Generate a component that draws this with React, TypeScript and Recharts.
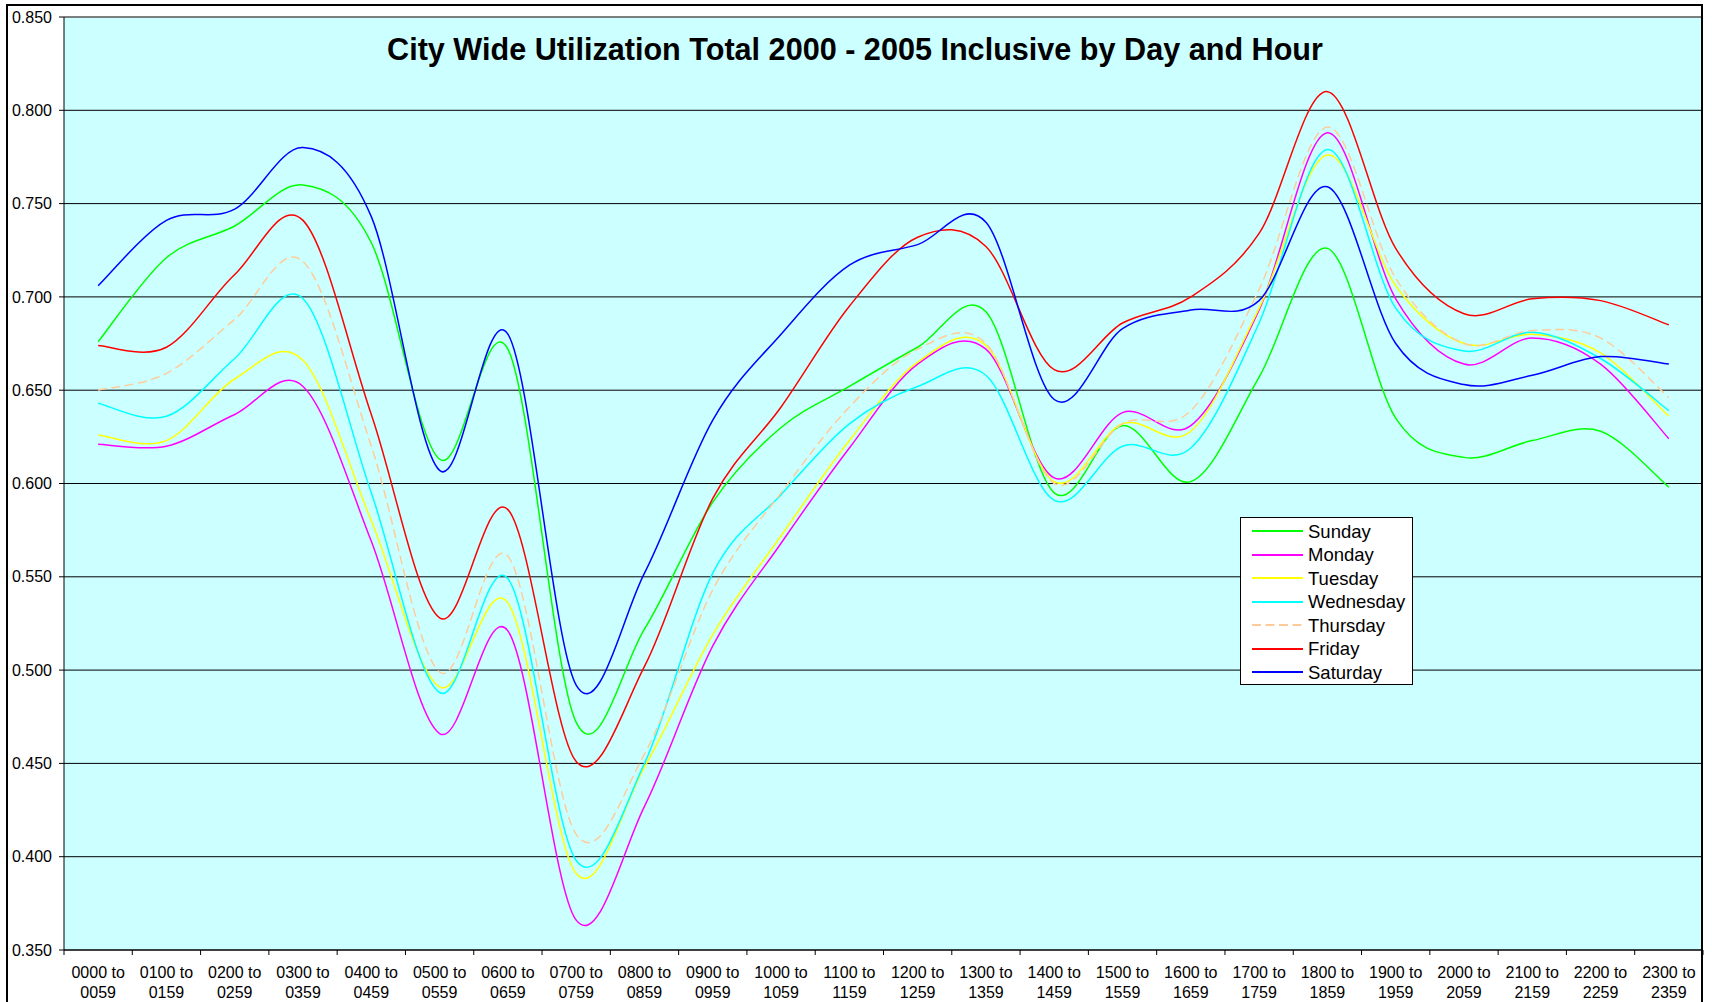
import { CartesianGrid, Legend, Line, LineChart, ReferenceLine, XAxis, YAxis } from "recharts";

const hours = [
  "0000 to 0059", "0100 to 0159", "0200 to 0259", "0300 to 0359", "0400 to 0459", "0500 to 0559",
  "0600 to 0659", "0700 to 0759", "0800 to 0859", "0900 to 0959", "1000 to 1059", "1100 to 1159",
  "1200 to 1259", "1300 to 1359", "1400 to 1459", "1500 to 1559", "1600 to 1659", "1700 to 1759",
  "1800 to 1859", "1900 to 1959", "2000 to 2059", "2100 to 2159", "2200 to 2259", "2300 to 2359",
];

const sunday = [0.676, 0.721, 0.738, 0.760, 0.729, 0.613, 0.672, 0.472, 0.522, 0.590, 0.630, 0.652, 0.673, 0.692, 0.595, 0.631, 0.601, 0.657, 0.726, 0.635, 0.614, 0.623, 0.628, 0.598];
const monday = [0.621, 0.620, 0.637, 0.652, 0.569, 0.466, 0.521, 0.366, 0.427, 0.513, 0.568, 0.619, 0.664, 0.672, 0.603, 0.638, 0.631, 0.693, 0.788, 0.699, 0.664, 0.678, 0.664, 0.624];
const tuesday = [0.626, 0.623, 0.656, 0.666, 0.580, 0.491, 0.536, 0.391, 0.448, 0.519, 0.572, 0.623, 0.665, 0.674, 0.601, 0.632, 0.628, 0.694, 0.776, 0.706, 0.675, 0.680, 0.670, 0.636];
const wednesday = [0.643, 0.636, 0.667, 0.699, 0.595, 0.488, 0.549, 0.398, 0.450, 0.552, 0.594, 0.632, 0.652, 0.658, 0.591, 0.620, 0.619, 0.686, 0.779, 0.694, 0.671, 0.681, 0.667, 0.639];
const thursday = [0.650, 0.659, 0.688, 0.719, 0.620, 0.499, 0.561, 0.412, 0.455, 0.543, 0.595, 0.641, 0.672, 0.675, 0.600, 0.632, 0.639, 0.704, 0.791, 0.710, 0.675, 0.682, 0.678, 0.646];
const friday = [0.674, 0.673, 0.712, 0.741, 0.637, 0.528, 0.586, 0.451, 0.502, 0.592, 0.641, 0.695, 0.732, 0.727, 0.661, 0.686, 0.700, 0.734, 0.810, 0.726, 0.691, 0.699, 0.698, 0.685];
const saturday = [0.706, 0.741, 0.747, 0.780, 0.743, 0.607, 0.680, 0.492, 0.552, 0.634, 0.680, 0.717, 0.728, 0.740, 0.645, 0.683, 0.693, 0.698, 0.759, 0.675, 0.653, 0.658, 0.668, 0.664];

const yTicks = [0.35, 0.4, 0.45, 0.5, 0.55, 0.6, 0.65, 0.7, 0.75, 0.8, 0.85];

const series = [
  { name: "Sunday", values: sunday, color: "#00ff00" },
  { name: "Monday", values: monday, color: "#ff00ff" },
  { name: "Tuesday", values: tuesday, color: "#ffff00" },
  { name: "Wednesday", values: wednesday, color: "#00ffff" },
  { name: "Thursday", values: thursday, color: "#ffcc99", dash: "9 4.5" },
  { name: "Friday", values: friday, color: "#ff0000" },
  { name: "Saturday", values: saturday, color: "#0000ff" },
];

const data = hours.map((hour, i) => {
  const row: Record<string, string | number> = { hour };
  series.forEach((s) => (row[s.name] = s.values[i]));
  return row;
});

const FONT = "'Liberation Sans', Arial, sans-serif";
const W = 1712;
const H = 1002;
const PLOT_L = 64;
const PLOT_R = 1703;
const STEP = (PLOT_R - PLOT_L) / hours.length;

// excel style smoothing (catmull-rom through every point)
const excelSmooth = (context: any) => {
  let xs: number[] = [];
  let ys: number[] = [];
  return {
    areaStart() {},
    areaEnd() {},
    lineStart() {
      xs = [];
      ys = [];
    },
    point(x: number, y: number) {
      xs.push(+x);
      ys.push(+y);
    },
    lineEnd() {
      const n = xs.length;
      if (!n) return;
      context.moveTo(xs[0], ys[0]);
      for (let i = 0; i < n - 1; i++) {
        const a = Math.max(0, i - 1);
        const d = Math.min(n - 1, i + 2);
        context.bezierCurveTo(
          xs[i] + (xs[i + 1] - xs[a]) / 6,
          ys[i] + (ys[i + 1] - ys[a]) / 6,
          xs[i + 1] - (xs[d] - xs[i]) / 6,
          ys[i + 1] - (ys[d] - ys[i]) / 6,
          xs[i + 1],
          ys[i + 1]
        );
      }
    },
  };
};

function HourTick(props: any) {
  const { x, y, payload, index } = props;
  const [from, to] = String(payload.value).split(" to ");
  const left = x - STEP / 2;
  return (
    <g>
      <line x1={left} x2={left} y1={y} y2={y + 5} stroke="#000" />
      {index === hours.length - 1 && (
        <line x1={x + STEP / 2} x2={x + STEP / 2} y1={y} y2={y + 5} stroke="#000" />
      )}
      <text x={x} y={y + 28} textAnchor="middle" fontSize={16} fill="#000" fontFamily={FONT}>
        {from} to
      </text>
      <text x={x} y={y + 48} textAnchor="middle" fontSize={16} fill="#000" fontFamily={FONT}>
        {to}
      </text>
    </g>
  );
}

function LegendBox() {
  return (
    <div
      style={{
        width: 173,
        height: 168,
        boxSizing: "border-box",
        border: "1px solid #000",
        background: "#fff",
        paddingTop: 1.5,
        fontFamily: FONT,
        fontSize: 18.5,
        color: "#000",
      }}
    >
      {series.map((s) => (
        <div key={s.name} style={{ height: 23.5, display: "flex", alignItems: "center" }}>
          <svg width={62} height={10} style={{ flex: "none" }}>
            <line x1={11} x2={62} y1={5} y2={5} stroke={s.color} strokeWidth={2} strokeDasharray={s.dash} />
          </svg>
          <span style={{ marginLeft: 5, lineHeight: "23.5px", whiteSpace: "nowrap" }}>{s.name}</span>
        </div>
      ))}
    </div>
  );
}

export default function App() {
  return (
    <div
      style={{
        position: "absolute",
        left: 0,
        top: 0,
        width: W,
        height: H,
        overflow: "hidden",
        background: "#fff",
      }}
    >
      <LineChart width={W} height={H} data={data} margin={{ top: 17, right: W - PLOT_R, bottom: 0, left: 14 }}>
        <CartesianGrid vertical={false} stroke="#000" fill="#ccffff" fillOpacity={1} />
        <ReferenceLine y={0.85} stroke="#808080" />
        <XAxis
          dataKey="hour"
          interval={0}
          height={52}
          padding={{ left: STEP / 2, right: STEP / 2 }}
          tickLine={false}
          tickSize={0}
          tickMargin={0}
          axisLine={{ stroke: "#000" }}
          tick={<HourTick />}
        />
        <YAxis
          domain={[0.35, 0.85]}
          ticks={yTicks}
          interval={0}
          width={50}
          tickSize={5}
          tickMargin={7}
          tickFormatter={(v: number) => v.toFixed(3)}
          tick={{ fontSize: 16, fill: "#000", fontFamily: FONT }}
          tickLine={{ stroke: "#000" }}
          axisLine={{ stroke: "#000" }}
        />
        {series.map((s) => (
          <Line
            key={s.name}
            dataKey={s.name}
            type={excelSmooth as any}
            stroke={s.color}
            strokeWidth={1.5}
            strokeDasharray={s.dash}
            dot={false}
            activeDot={false}
            isAnimationActive={false}
          />
        ))}
        <Legend
          layout="vertical"
          align="center"
          verticalAlign="middle"
          wrapperStyle={{ left: 1240, top: 517, width: 173, height: 168 }}
          content={() => <LegendBox />}
        />
      </LineChart>
      <div
        style={{
          position: "absolute",
          left: 0,
          top: 34.3,
          width: 1710,
          textAlign: "center",
          fontFamily: FONT,
          fontWeight: "bold",
          fontSize: 30.6,
          lineHeight: "30.6px",
          color: "#000",
          pointerEvents: "none",
        }}
      >
        City Wide Utilization Total 2000 - 2005 Inclusive by Day and Hour
      </div>
      <div
        style={{
          position: "absolute",
          left: 6,
          top: 4,
          width: PLOT_R - 6,
          height: H + 10,
          boxSizing: "border-box",
          borderLeft: "2px solid #000",
          borderTop: "2px solid #000",
          borderRight: "2px solid #000",
          pointerEvents: "none",
        }}
      />
    </div>
  );
}
